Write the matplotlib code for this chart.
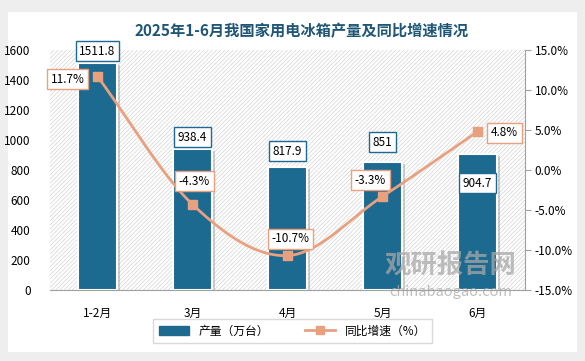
import numpy as np
import matplotlib.pyplot as plt
import matplotlib.patheffects as pe
from matplotlib.patches import Rectangle
from matplotlib.lines import Line2D

plt.rcParams['font.family'] = ['Noto Sans CJK SC', 'DejaVu Sans']
plt.rcParams['hatch.linewidth'] = 0.5
plt.rcParams['hatch.color'] = '#d2d2d2'

months = ['1-2月', '3月', '4月', '5月', '6月']
output = [1511.8, 938.4, 817.9, 851, 904.7]
growth = [11.7, -4.3, -10.7, -3.3, 4.8]

bar_color = '#1d6a91'
line_color = '#e9a07e'

fig = plt.figure(figsize=(5.85, 3.61), dpi=100, facecolor='#eeeeee')
fig.patches.append(Rectangle((8 / 585, 9 / 361), 569 / 585, 340 / 361, transform=fig.transFigure,
                             facecolor='white', edgecolor='none', zorder=-10))

ax = fig.add_axes([50 / 585, 71 / 361, 475 / 585, 240 / 361])
ax.set_facecolor('none')
ax.add_patch(Rectangle((0, 0), 1, 1, transform=ax.transAxes, facecolor='white',
                       hatch='////////', edgecolor='#d4d4d4', linewidth=0, zorder=0))

x = np.arange(len(months))
bars = ax.bar(x, output, width=0.42, color=bar_color, edgecolor='white', linewidth=1.5, zorder=2)
for b in bars:
    b.set_path_effects([pe.SimplePatchShadow(offset=(2, -1), shadow_rgbFace='#666666', alpha=0.3), pe.Normal()])

ax.set_xlim(-0.5, 4.5)
ax.set_ylim(0, 1600)
ax.set_yticks(range(0, 1601, 200))
ax.set_xticks(x)
ax.set_xticklabels(months)
ax.tick_params(axis='y', length=0, pad=14, labelsize=8.5)
ax.tick_params(axis='x', length=0, pad=12, labelsize=8.5)
for s in ['left', 'top', 'right']:
    ax.spines[s].set_visible(False)
ax.spines['bottom'].set_color('#a0a0a0')

# bar labels
bar_offsets = [(0, 12), (0, 12), (0, 16), (0, 20), (0, -29)]
for i, v in enumerate(output):
    ax.annotate(f'{v:g}', (x[i], v), xytext=bar_offsets[i], textcoords='offset pixels',
                ha='center', va='center', fontsize=8.5, zorder=6,
                bbox=dict(boxstyle='square,pad=0.3', facecolor='white', edgecolor=bar_color, linewidth=1))

ax2 = ax.twinx()
ax2.set_ylim(-15, 15)
ax2.set_yticks(range(-15, 16, 5))
ax2.set_yticklabels([f'{t:.1f}%' for t in range(-15, 16, 5)])
ax2.tick_params(axis='y', length=4, color='#a0a0a0', labelsize=8.5, pad=3)
for s in ['left', 'top', 'bottom']:
    ax2.spines[s].set_visible(False)
ax2.spines['right'].set_color('#a0a0a0')

# smooth line through the points (Catmull-Rom)
gx = np.array(x, dtype=float)
gy = np.array(growth, dtype=float)
px = np.concatenate([[2 * gx[0] - gx[1]], gx, [2 * gx[-1] - gx[-2]]])
py = np.concatenate([[2 * gy[0] - gy[1]], gy, [2 * gy[-1] - gy[-2]]])
sx, sy = [], []
t = np.linspace(0, 1, 40)
for k in range(1, len(px) - 2):
    for arr, out in ((px, sx), (py, sy)):
        p0, p1, p2, p3 = arr[k - 1], arr[k], arr[k + 1], arr[k + 2]
        out.extend(0.5 * (2 * p1 + (-p0 + p2) * t + (2 * p0 - 5 * p1 + 4 * p2 - p3) * t ** 2
                          + (-p0 + 3 * p1 - 3 * p2 + p3) * t ** 3))
ax2.plot(sx, sy, color=line_color, linewidth=2, zorder=3)
ax2.plot(gx, gy, 's', color=line_color, markersize=6, zorder=4,
         path_effects=[pe.SimplePatchShadow(offset=(1, -1), alpha=0.3), pe.Normal()])

line_offsets = [(-30, -3), (2, 23), (3, 17), (-12, 16), (27, -1)]
for i, v in enumerate(growth):
    ax2.annotate(f'{v:.1f}%', (gx[i], v), xytext=line_offsets[i], textcoords='offset pixels',
                 ha='center', va='center', fontsize=8.5, zorder=6,
                 bbox=dict(boxstyle='square,pad=0.3', facecolor='white', edgecolor=line_color, linewidth=1))

fig.text(0.515, 0.915, '2025年1-6月我国家用电冰箱产量及同比增速情况', ha='center', va='center',
         fontsize=11, fontweight='bold', color='#1f5675')

# watermark
fig.text(0.77, 0.262, '观研报告网', ha='center', va='center', fontsize=19, fontweight='bold',
         color='#a8a8a8', alpha=0.75, zorder=10)
fig.text(0.77, 0.19, 'chinabaogao.com', ha='center', va='center', fontsize=10.5,
         color='#a8a8a8', alpha=0.75, zorder=10)

handles = [Rectangle((0, 0), 1, 1, color=bar_color),
           Line2D([0], [0], color=line_color, linewidth=2, marker='s', markersize=6)]
fig.legend(handles, ['产量（万台）', '同比增速（%）'], loc='center', bbox_to_anchor=(0.5, 0.083),
           ncol=2, frameon=True, fancybox=False, edgecolor='#d0d0d0', fontsize=8.5,
           handlelength=2.6, columnspacing=3, borderpad=0.5)

fig.savefig('out.png', dpi=100, facecolor=fig.get_facecolor())
